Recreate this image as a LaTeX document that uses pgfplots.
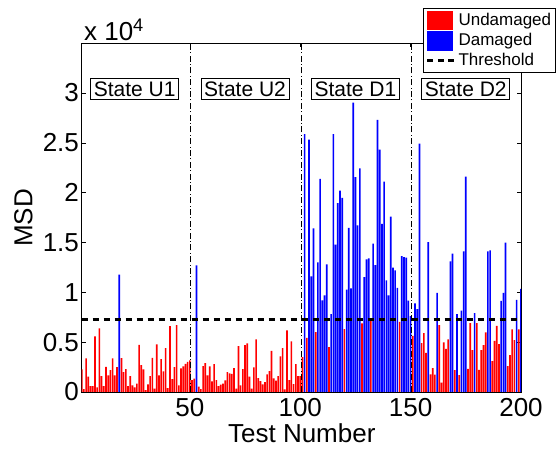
\documentclass[border=0pt]{standalone}
\usepackage{fontspec}
\setmainfont{Liberation Sans}
\usepackage{pgfplots}
\pgfplotsset{compat=1.18}
\begin{document}
\begin{tikzpicture}
\begin{axis}[
  name=ax,
  scale only axis,
  width=219.65pt, height=174.5pt,
  xmin=1, xmax=200, ymin=0, ymax=35000,
  xtick={50,100,150,200},
  xticklabels={50,100,150,200},
  ytick={0,5000,10000,15000,20000,25000,30000},
  yticklabels={0,0.5,1,1.5,2,2.5,3},
  scaled y ticks=false,
  ticklabel style={font=\fontsize{13}{15}\selectfont},
  yticklabel style={inner xsep=1.2pt},
  xticklabel style={inner ysep=3pt},
  tick align=inside, major tick length=2pt,
  tick style={black},
  xlabel={Test Number}, ylabel={MSD},
  label style={font=\fontsize{13}{15}\selectfont},
  xlabel style={at={(axis description cs:0.501,-0.117)}, anchor=center},
  ylabel style={at={(axis description cs:-0.1325,0.499)}, anchor=center},
  legend style={at={(rel axis cs:1.08,1.10)}, anchor=north east, font=\fontsize{8.5}{10}\selectfont,
    draw=black, fill=white, inner xsep=1.5pt, inner ysep=1pt, row sep=0.5pt,
    nodes={inner sep=0.8pt}},
  legend cell align=left,
  clip mode=individual,
]
\addplot[ybar, bar width=0.75, bar shift=0pt, fill=red, draw=none,
  legend image code/.code={\fill[red] (0pt,-4.8pt) rectangle (13pt,5pt);}] coordinates {
(1,2270) (2,300) (3,3370) (4,1530) (5,600) (6,600) (7,5570) (8,470) (9,6370) (10,1600)
(11,600) (12,2530) (13,1670) (14,2200) (15,3370) (16,1670) (17,2500) (19,3400) (20,2000)
(21,2300) (22,600) (23,1600) (24,670) (25,470) (26,830) (27,4730) (28,2700) (29,2270) (30,200)
(31,770) (32,1600) (33,3430) (34,330) (35,4770) (36,1670) (37,3300) (38,2070) (39,4400) (40,400)
(41,6600) (42,1300) (43,2500) (44,6700) (45,670) (46,2370) (47,2570) (48,2830) (49,3030) (50,3170)
(51,1200) (52,1330) (54,530) (55,300) (56,2600) (57,2900) (58,1670) (59,2570) (60,1070)
(61,2800) (62,1200) (63,600) (64,730) (65,830) (66,1170) (67,2000) (68,1870) (69,1830) (70,2400)
(71,330) (72,4600) (73,670) (74,2300) (75,4700) (76,4870) (77,1530) (78,330) (79,2470) (80,5270)
(81,1400) (82,1100) (83,770) (84,1000) (85,1770) (86,2100) (87,4130) (88,1370) (89,1130) (90,1600)
(91,3570) (92,4400) (93,270) (94,6170) (95,1200) (96,5070) (97,800) (98,2800) (99,1600) (100,1600)
(101,3500) (103,5430) (107,6000) (113,4500) (120,6300) (128,6870) (132,7100) (145,7030)
(151,5630) (155,4900) (156,5900) (157,3930) (159,1770) (160,2400) (161,1730) (163,6700) (164,930)
(165,4970) (166,4330) (167,5270) (170,2200) (172,1700) (176,2330) (177,6900) (178,4200) (180,6900)
(181,2230) (182,4200) (183,4700) (184,5970) (187,3100) (188,5130) (189,6630) (190,4800)
(194,2600) (195,3700) (196,6270) (197,5200) (199,6270)
};
\addlegendentry{Undamaged}
\addplot[ybar, bar width=0.75, bar shift=0pt, fill=blue, draw=none,
  legend image code/.code={\fill[blue] (0pt,-4.8pt) rectangle (13pt,5pt);}] coordinates {
(18,11770) (53,12700) (102,25870) (104,25300) (105,11600) (106,16400) (108,13000) (109,21370)
(110,9200) (111,9700) (112,12800) (114,7800) (115,25870) (116,14770) (117,18930) (118,20200)
(119,19470) (121,10270) (122,16470) (123,10400) (124,29030) (125,21550) (126,16700) (127,22430)
(129,11530) (130,13300) (131,13400) (133,14870) (134,12730) (135,27300) (136,24300) (137,16870)
(138,21100) (139,11200) (140,9700) (141,17600) (142,12470) (143,12200) (144,10430) (146,13630)
(147,13530) (148,13470) (149,9170) (150,7600) (152,8900) (153,8300) (154,24900) (158,15030)
(162,9930) (168,13100) (169,13870) (171,7800) (173,8150) (174,14100) (175,21600) (179,7900)
(185,14100) (186,14200) (191,9130) (192,9930) (193,14970) (198,9230) (200,10330)
};
\addlegendentry{Damaged}
\addplot[black, line width=1.5pt, dash pattern=on 3pt off 2.5pt,
  legend image code/.code={\draw[black, line width=1.5pt, dash pattern=on 3pt off 2.2pt] (0pt,0pt) -- (14pt,0pt);}]
  coordinates {(1,7250) (200,7250)};
\addlegendentry{Threshold}
\addplot[forget plot, black, line width=0.5pt, dash pattern=on 3pt off 1.2pt on 0.5pt off 1.2pt] coordinates {(50.5,0) (50.5,35000)};
\addplot[forget plot, black, line width=0.5pt, dash pattern=on 3pt off 1.2pt on 0.5pt off 1.2pt] coordinates {(100.5,0) (100.5,35000)};
\addplot[forget plot, black, line width=0.5pt, dash pattern=on 3pt off 1.2pt on 0.5pt off 1.2pt] coordinates {(150.5,0) (150.5,35000)};
\node[draw=black, fill=white, inner sep=1.6pt, font=\fontsize{10.5}{12}\selectfont] at (axis cs:25,30400) {State U1};
\node[draw=black, fill=white, inner sep=1.6pt, font=\fontsize{10.5}{12}\selectfont] at (axis cs:75,30400) {State U2};
\node[draw=black, fill=white, inner sep=1.6pt, font=\fontsize{10.5}{12}\selectfont] at (axis cs:125,30400) {State D1};
\node[draw=black, fill=white, inner sep=1.6pt, font=\fontsize{10.5}{12}\selectfont] at (axis cs:175,30400) {State D2};
\node[anchor=south west, inner sep=1pt, font=\fontsize{13}{15}\selectfont] at (rel axis cs:0,1) {x 10\textsuperscript{4}};
\end{axis}
\pgfresetboundingbox
\path[use as bounding box] ([xshift=-40.85pt, yshift=-29pt]ax.south west) rectangle ([xshift=18.5pt, yshift=21.5pt]ax.north east);
\end{tikzpicture}
\end{document}
